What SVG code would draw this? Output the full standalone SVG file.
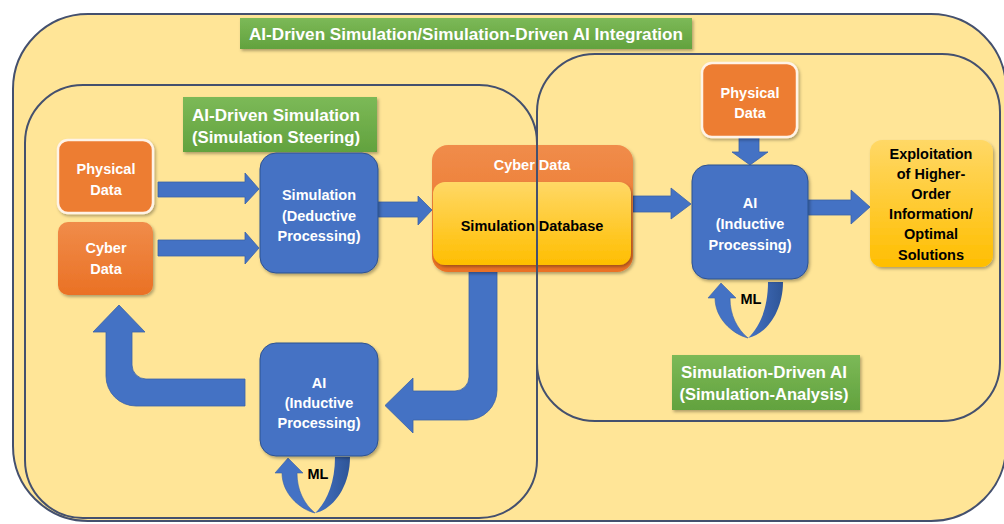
<svg xmlns="http://www.w3.org/2000/svg" width="1004" height="524" viewBox="0 0 1004 524">
<defs>
<style>
.t{font-family:"Liberation Sans",Arial,sans-serif;font-weight:bold;font-size:14.5px;text-anchor:middle}
.w{fill:#ffffff}
.k{fill:#000000}
.g{font-size:16.5px}
.blue{fill:#4472C4;stroke:#2F528F;stroke-width:1}
.arrow{fill:#4472C4;stroke:#3A62A8;stroke-width:0.8}
.region{fill:none;stroke:#44506E;stroke-width:2}
</style>
<linearGradient id="yel" x1="0" y1="0" x2="0" y2="1"><stop offset="0" stop-color="#FFD866"/><stop offset="1" stop-color="#FFBE00"/></linearGradient>
<linearGradient id="grn" x1="0" y1="0" x2="0" y2="1"><stop offset="0" stop-color="#7CB957"/><stop offset="1" stop-color="#62A23E"/></linearGradient>
<linearGradient id="org" x1="0" y1="0" x2="0" y2="1"><stop offset="0" stop-color="#F08C4A"/><stop offset="1" stop-color="#EA7125"/></linearGradient>
<linearGradient id="dk" x1="0" y1="0" x2="1" y2="0"><stop offset="0" stop-color="#4472C4"/><stop offset="1" stop-color="#2E5597"/></linearGradient>
<filter id="sh" x="-10%" y="-10%" width="125%" height="130%"><feDropShadow dx="1.5" dy="2" stdDeviation="1.5" flood-color="#000" flood-opacity="0.3"/></filter>
<g id="ml">
<path d="M335 457 L350 457 C350 488 332 510 315 513 C326 503 335 484 335 457 Z" fill="url(#dk)"/>
<path d="M315 513 C299 509 282 493 282 473 L275 473 L288 458 L303 473 L297 473 C297 490 304 504 315 513 Z" fill="#4472C4" stroke="#3A62A8" stroke-width="0.6"/>
</g>
</defs>
<rect x="0" y="0" width="1004" height="524" fill="#ffffff"/>
<rect id="outer" x="13" y="14" width="993" height="507" rx="75" fill="#FFE597" stroke="#44506E" stroke-width="2"/>

<g id="connectors">
<polygon class="arrow" points="158,182 245,182 245,173 259,189 245,204 245,197 158,197"/>
<polygon class="arrow" points="158,240 245,240 245,232 259,248 245,264 245,256 158,256"/>
<polygon class="arrow" points="378,202 418,202 418,196 432,210 418,225 418,217 378,217"/>
<polygon class="arrow" points="633,196 671,196 671,188 691,204 671,219 671,212 633,212"/>
<polygon class="arrow" points="739,137 759,137 759,152 768,152 750,165 732,152 739,152"/>
<polygon class="arrow" points="808,200 851,200 851,190 870,207 851,224 851,215 808,215"/>
<path class="arrow" d="M469 268 L497 268 L497 390 A30 30 0 0 1 467 420 L413 420 L413 433 L385 405.5 L413 378 L413 391 L455 391 A14 14 0 0 0 469 377 Z"/>
<path class="arrow" d="M245 379 L146 379 A14 14 0 0 1 132 365 L132 332 L145 332 L119 305 L93 332 L106 332 L106 376 A30 30 0 0 0 136 406 L245 406 Z"/>
<use href="#ml"/>
<use href="#ml" transform="translate(433,-175)"/>
<text class="t k" x="318" y="479">ML</text>
<text class="t k" x="751" y="304">ML</text>
</g>

<g id="label-integration">
<rect x="240" y="18" width="452" height="31" fill="url(#grn)" filter="url(#sh)"/>
<text class="t w g" x="466" y="40" textLength="434" lengthAdjust="spacingAndGlyphs">AI-Driven Simulation/Simulation-Driven AI Integration</text>
</g>
<g id="label-steering">
<rect x="183" y="97" width="194" height="55" fill="url(#grn)" filter="url(#sh)"/>
<text class="t w g" x="276" y="121" textLength="168" lengthAdjust="spacingAndGlyphs">AI-Driven Simulation</text>
<text class="t w g" x="276" y="143" textLength="168" lengthAdjust="spacingAndGlyphs">(Simulation Steering)</text>
</g>
<g id="label-analysis">
<rect x="672" y="355" width="188" height="55" fill="url(#grn)" filter="url(#sh)"/>
<text class="t w g" x="764" y="378" textLength="166" lengthAdjust="spacingAndGlyphs">Simulation-Driven AI</text>
<text class="t w g" x="764" y="400" textLength="169" lengthAdjust="spacingAndGlyphs">(Simulation-Analysis)</text>
</g>

<g id="physical-data-left">
<rect x="58" y="140" width="95" height="73" rx="10" fill="#ED7D31" stroke="#FFF3E6" stroke-width="2.5" filter="url(#sh)"/>
<text class="t w" x="106" y="174">Physical</text>
<text class="t w" x="106" y="195">Data</text>
</g>
<g id="cyber-data-left">
<rect x="58" y="222" width="95" height="73" rx="10" fill="url(#org)" filter="url(#sh)"/>
<text class="t w" x="106" y="253">Cyber</text>
<text class="t w" x="106" y="274">Data</text>
</g>
<g id="simulation">
<rect class="blue" x="260" y="153" width="118" height="120" rx="16" filter="url(#sh)"/>
<text class="t w" x="319" y="200">Simulation</text>
<text class="t w" x="319" y="221">(Deductive</text>
<text class="t w" x="319" y="241">Processing)</text>
</g>
<g id="cyber-data-db">
<rect x="432" y="145" width="201" height="127" rx="16" fill="url(#org)" filter="url(#sh)"/>
<text class="t w" x="532" y="170">Cyber Data</text>
<rect x="433" y="182" width="198" height="83" rx="12" fill="url(#yel)" filter="url(#sh)"/>
<text class="t k" x="532" y="231">Simulation Database</text>
</g>
<g id="ai-left">
<rect class="blue" x="260" y="343" width="118" height="113" rx="16" filter="url(#sh)"/>
<text class="t w" x="319" y="388">AI</text>
<text class="t w" x="319" y="408">(Inductive</text>
<text class="t w" x="319" y="428">Processing)</text>
</g>
<g id="physical-data-right">
<rect x="702" y="63" width="95" height="74" rx="10" fill="#ED7D31" stroke="#FFF3E6" stroke-width="2.5" filter="url(#sh)"/>
<text class="t w" x="750" y="98">Physical</text>
<text class="t w" x="750" y="118">Data</text>
</g>
<g id="ai-right">
<rect class="blue" x="692" y="165" width="116" height="114" rx="16" filter="url(#sh)"/>
<text class="t w" x="750" y="208">AI</text>
<text class="t w" x="750" y="229">(Inductive</text>
<text class="t w" x="750" y="250">Processing)</text>
</g>
<g id="exploitation">
<rect x="870" y="140" width="123" height="127" rx="12" fill="url(#yel)" filter="url(#sh)"/>
<text class="t k" x="931" y="159">Exploitation</text>
<text class="t k" x="931" y="179">of Higher-</text>
<text class="t k" x="931" y="199">Order</text>
<text class="t k" x="931" y="219">Information/</text>
<text class="t k" x="931" y="239">Optimal</text>
<text class="t k" x="931" y="260">Solutions</text>
</g>

<g id="regions">
<rect class="region" x="25" y="85" width="512" height="433" rx="58"/>
<rect class="region" x="537" y="54" width="463" height="367" rx="58"/>
</g>
</svg>
